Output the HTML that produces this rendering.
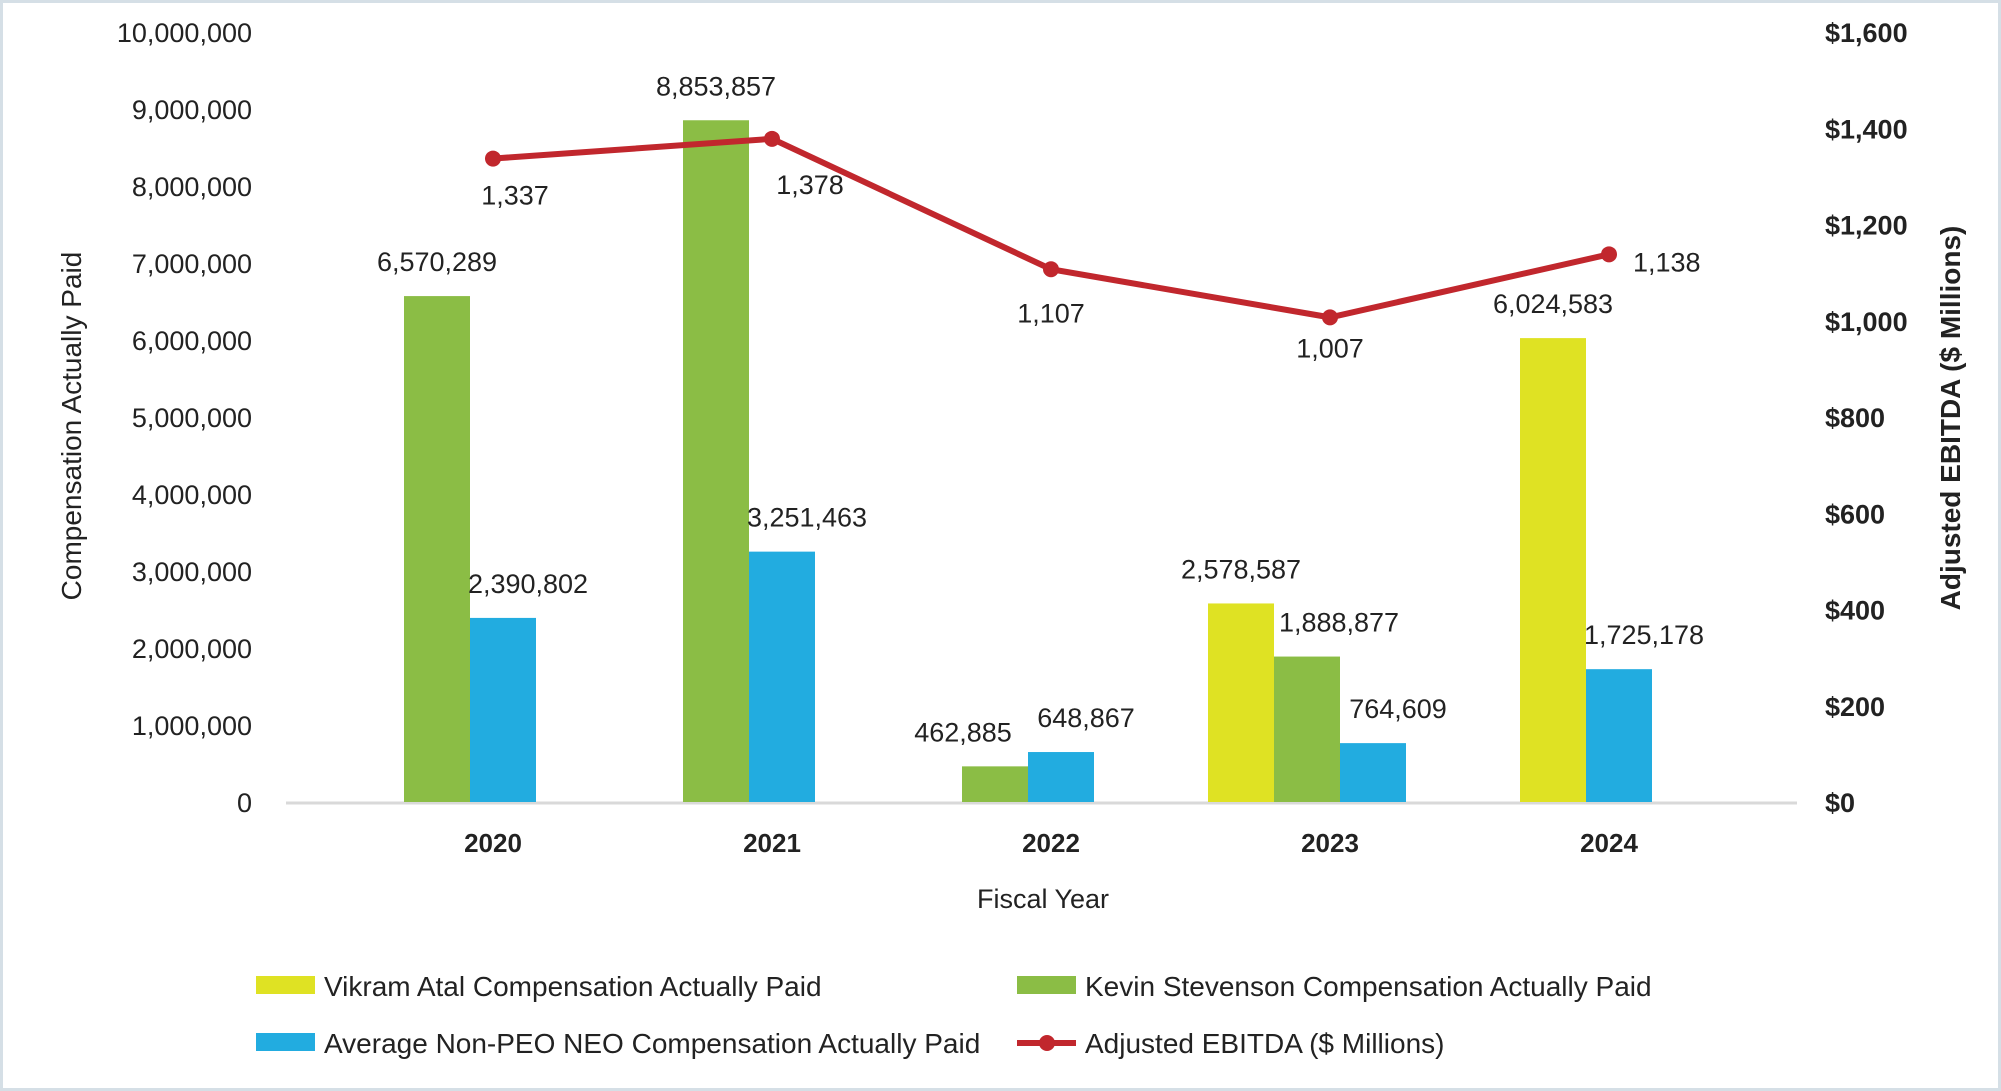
<!DOCTYPE html>
<html><head><meta charset="utf-8"><style>
body{margin:0;background:#fff}
svg{display:block;font-family:"Liberation Sans",sans-serif}
</style></head><body>
<svg id="chart" width="2001" height="1091">
<rect x="1.5" y="1.5" width="1998" height="1088" fill="#fff" stroke="#d5dfe6" stroke-width="3"/>
</svg>
<script>
const years=["2020","2021","2022","2023","2024"];
const vikram=[null,null,null,2578587,6024583];
const kevin=[6570289,8853857,462885,1888877,null];
const avgNeo=[2390802,3251463,648867,764609,1725178];
const ebitda=[1337,1378,1107,1007,1138];
const leftTicks=[0,1000000,2000000,3000000,4000000,5000000,6000000,7000000,8000000,9000000,10000000];
const rightTicks=[0,200,400,600,800,1000,1200,1400,1600];

const svg=document.getElementById('chart');
const NS='http://www.w3.org/2000/svg';
function mk(tag,attrs,parent){const e=document.createElementNS(NS,tag);for(const k in attrs)e.setAttribute(k,attrs[k]);(parent||svg).appendChild(e);return e;}
const Y0=802,Y1=32;
const yL=v=>Y0-(v/10000000)*(Y0-Y1);
const yR=v=>Y0-(v/1600)*(Y0-Y1);
const xC=i=>470+279*i;
const LX=23;
const BW=66;
const fmt=v=>v.toLocaleString('en-US');
const C={v:"#dfe223",k:"#8bbd45",a:"#22ace0",r:"#c1272d"};

let bl=mk('line',{x1:286,x2:1797,y1:Y0+1,y2:Y0+1,stroke:'#d9d9d9','stroke-width':3});



leftTicks.forEach(t=>{
  const e=mk('text',{x:252,y:yL(t)+10,'text-anchor':'end','font-size':27,fill:'#222'});
  e.textContent=fmt(t);
  
  
});
rightTicks.forEach(t=>{
  const e=mk('text',{x:1825,y:yR(t)+10,'font-size':27,'font-weight':'bold',fill:'#222'});
  e.textContent='$'+fmt(t);
  
  
});

years.forEach((yr,i)=>{
  const series=[[vikram,C.v,'vikram',0],[kevin,C.k,'kevin',0],[avgNeo,C.a,'avg-neo',25]].filter(s=>s[0][i]!==null);
  const start=xC(i)-series.length*BW/2;
  series.forEach((s,j)=>{
    const v=s[0][i];const x=start+j*BW;
    const r=mk('rect',{x:x,y:yL(v),width:BW,height:Y0-yL(v),fill:s[1]});
    
    
    let dx=s[3];
    if(s[2]==='kevin'&&series.length===2&&j===0&&i===2)dx=-32;
    if(s[2]==='kevin'&&series.length===3)dx=32;
    const t=mk('text',{x:x+BW/2+dx,y:yL(v)-25,'text-anchor':'middle','font-size':27,fill:'#222'});
    t.textContent=fmt(v);
    
    
  });
  const yl=mk('text',{x:xC(i)+LX,y:852,'text-anchor':'middle','font-size':26,'font-weight':'bold',fill:'#222'});
  yl.textContent=yr;
  
  
});

const pts=ebitda.map((v,i)=>(xC(i)+LX)+','+yR(v)).join(' ');
const pl=mk('polyline',{points:pts,fill:'none',stroke:C.r,'stroke-width':6});


const lblDx=[22,38,0,0,24], lblDy=[46,55,53,40,17];
ebitda.forEach((v,i)=>{
  const px=xC(i)+LX;
  const c=mk('circle',{cx:px,cy:yR(v),r:8,fill:C.r});
  
  
  const anchor=(i===4)?'start':'middle';
  const t=mk('text',{x:px+lblDx[i],y:yR(v)+lblDy[i],'text-anchor':anchor,'font-size':27,fill:'#222'});
  t.textContent=fmt(v);
  
  
});

let a=mk('text',{x:0,y:0,'text-anchor':'middle','font-size':28,fill:'#222',transform:'translate(81,426) rotate(-90)'});
a.textContent='Compensation Actually Paid';


a=mk('text',{x:0,y:0,'text-anchor':'middle','font-size':28,'font-weight':'bold',fill:'#222',transform:'translate(1960,418) rotate(-90)'});
a.textContent='Adjusted EBITDA ($ Millions)';


a=mk('text',{x:1043,y:908,'text-anchor':'middle','font-size':27,fill:'#222'});
a.textContent='Fiscal Year';



const leg=[[256,986,C.v,'Vikram Atal Compensation Actually Paid','bar'],[1017,986,C.k,'Kevin Stevenson Compensation Actually Paid','bar'],[256,1043,C.a,'Average Non-PEO NEO Compensation Actually Paid','bar'],[1017,1043,C.r,'Adjusted EBITDA ($ Millions)','line']];
leg.forEach(l=>{
  const g=mk('g',{});
  
  
  if(l[4]==='bar'){mk('rect',{x:l[0],y:l[1]-10,width:59,height:18,fill:l[2]},g);}
  else{mk('line',{x1:l[0],x2:l[0]+59,y1:l[1],y2:l[1],stroke:l[2],'stroke-width':6},g);mk('circle',{cx:l[0]+30,cy:l[1],r:8,fill:l[2]},g);}
  const t=mk('text',{x:l[0]+68,y:l[1]+10,'font-size':28,fill:'#222'},g);
  t.textContent=l[3];
});
</script>
</body></html>
